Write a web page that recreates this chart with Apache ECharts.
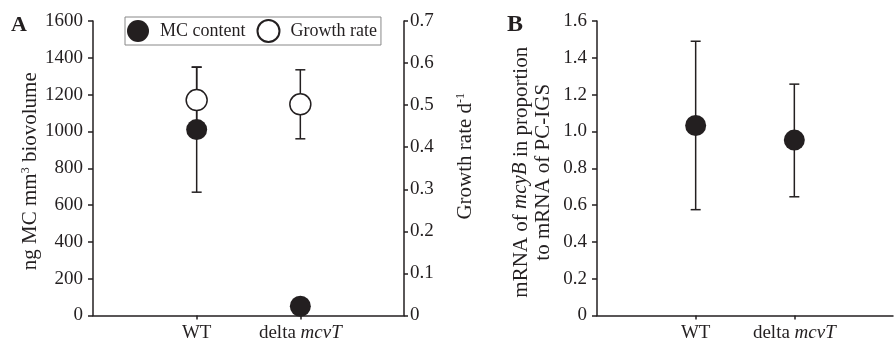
<!DOCTYPE html>
<html><head><meta charset="utf-8">
<script src="https://cdn.jsdelivr.net/npm/echarts@6/dist/echarts.min.js"></script>
<style>html,body{margin:0;padding:0;background:#fff}#c{width:896px;height:343px}</style>
</head><body><div id="c"></div>
<script>
// ---- data ----
const categories = ['WT', 'delta mcvT'];
const axisCats = ['', 'WT', 'delta mcvT', ''];
// Panel A
const mcContent = [1010, 50];
const mcErr = [340, 0];
const growthRate = [0.512, 0.502];
const growthErr = [0.078, 0.082];
// Panel B
const mcyB = [1.032, 0.953];
const mcyBLow = [0.575, 0.645];
const mcyBHigh = [1.49, 1.257];
const ticksA = [0, 200, 400, 600, 800, 1000, 1200, 1400, 1600];
const ticksGrowth = [0, 0.1, 0.2, 0.3, 0.4, 0.5, 0.6, 0.7];
const ticksB = [0, 0.2, 0.4, 0.6, 0.8, 1.0, 1.2, 1.4, 1.6];

const FONT = '"Liberation Serif","DejaVu Serif",serif';
const INK = '#231f20';
const TICKFS = 19;
const NAMEFS = 21;

const chart = echarts.init(document.getElementById('c'), null, {renderer: 'canvas'});

function errSeries(name, xi, yi, data) {
  return {
    type: 'custom', name: name, xAxisIndex: xi, yAxisIndex: yi, z: 1, silent: true,
    renderItem: function (params, api) {
      const x = api.value(0);
      const lo = api.coord([x, api.value(1)]);
      const hi = api.coord([x, api.value(2)]);
      const w = 5;
      const st = {stroke: INK, lineWidth: 1.5};
      return {type: 'group', children: [
        {type: 'line', shape: {x1: lo[0], y1: lo[1], x2: hi[0], y2: hi[1]}, style: st},
        {type: 'line', shape: {x1: lo[0] - w, y1: lo[1], x2: lo[0] + w, y2: lo[1]}, style: st},
        {type: 'line', shape: {x1: hi[0] - w, y1: hi[1], x2: hi[0] + w, y2: hi[1]}, style: st}
      ]};
    },
    data: data
  };
}

function catLabel(v) {
  if (v === 'delta mcvT') return '{n|delta }{i|mcvT}';
  return v ? '{n|' + v + '}' : '';
}

const xAxisCommon = {
  type: 'category', data: axisCats, boundaryGap: false,
  axisLine: {lineStyle: {color: INK, width: 1.5}},
  axisTick: {length: 4, lineStyle: {color: INK, width: 1.5}, interval: function(i){return i===1||i===2;}},
  axisLabel: {
    interval: 0, margin: 7, color: INK, fontFamily: FONT, fontSize: TICKFS,
    formatter: catLabel,
    rich: {
      n: {fontFamily: FONT, fontSize: TICKFS, color: INK, lineHeight: 22},
      i: {fontStyle: 'italic', fontFamily: FONT, fontSize: TICKFS, color: INK, padding: [0, 0, 2, 0]}
    }
  },
  splitLine: {show: false}
};

function yAxisBase(min, max, interval, fmt) {
  return {
    type: 'value', min: min, max: max, interval: interval,
    axisLine: {show: true, lineStyle: {color: INK, width: 1.5}},
    axisTick: {show: true, length: 5, lineStyle: {color: INK, width: 1.5}},
    axisLabel: {color: INK, fontFamily: FONT, fontSize: TICKFS, margin: 10, formatter: fmt},
    splitLine: {show: false},
    nameLocation: 'middle', nameRotate: 90,
    nameTextStyle: {color: INK, fontFamily: FONT, fontSize: NAMEFS}
  };
}

const fmt1 = function (v) { return v === 0 ? '0' : v.toFixed(1); };

const yA = yAxisBase(ticksA[0], ticksA[ticksA.length - 1], ticksA[1] - ticksA[0], function (v) { return String(v); });
yA.gridIndex = 0; yA.position = 'left';
yA.name = 'ng MC mm{sup|3} biovolume';
yA.nameGap = 52;
yA.nameTextStyle.padding = [0, 6, 0, 0];
yA.nameTextStyle.rich = {sup: {fontSize: 12, fontFamily: FONT, color: INK, padding: [0, 0, 9, 0]}};

const yG = yAxisBase(ticksGrowth[0], ticksGrowth[ticksGrowth.length - 1], 0.1, fmt1);
yG.gridIndex = 0; yG.position = 'right';
yG.axisTick.length = 4;
yG.axisLabel.margin = 6;
yG.name = 'Growth rate d{sup|-1}';
yG.nameGap = 51;
yG.nameTextStyle.padding = [0, 0, 0, 24];
yG.nameTextStyle.rich = {sup: {fontSize: 12, fontFamily: FONT, color: INK, padding: [0, 0, 9, 0]}};

const yB = yAxisBase(ticksB[0], ticksB[ticksB.length - 1], 0.2, fmt1);
yB.gridIndex = 1; yB.position = 'left';
yB.name = '{n|mRNA of }{i|mcyB}{n| in proportion}\n{n|to mRNA of PC-IGS}';
yB.nameGap = 43;
yB.nameTextStyle.padding = [0, 8, 0, 0];
yB.nameTextStyle.rich = {
  n: {fontFamily: FONT, fontSize: NAMEFS, color: INK, lineHeight: 21},
  i: {fontStyle: 'italic', fontFamily: FONT, fontSize: NAMEFS, color: INK, padding: [0, 0, 2, 0]}
};

const circle = 21;

const option = {
  backgroundColor: '#fff',
  animation: false,
  textStyle: {fontFamily: FONT},
  grid: [
    {left: 93, top: 21, width: 311, height: 295},
    {left: 597, top: 21, width: 309, height: 295}
  ],
  xAxis: [
    Object.assign({gridIndex: 0}, xAxisCommon),
    Object.assign({gridIndex: 1}, xAxisCommon)
  ],
  yAxis: [yA, yG, yB],
  legend: {
    left: 125, top: 17, orient: 'horizontal',
    data: ['MC content', 'Growth rate'],
    icon: 'circle', itemWidth: 24, itemHeight: 22, itemGap: 11,
    borderColor: '#888', borderWidth: 1, padding: [2, 4, 2, 2],
    textStyle: {color: INK, fontFamily: FONT, fontSize: 18, padding: [0, 0, 0, 5]}
  },
  graphic: [
    {type: 'text', left: 11, top: 14, style: {text: 'A', font: 'bold 22px ' + FONT, fill: INK}},
    {type: 'text', left: 507, top: 13, style: {text: 'B', font: 'bold 24px ' + FONT, fill: INK}}
  ],
  series: [
    errSeries('errMC', 0, 0, categories.map(function (c, i) {
      return [c, mcContent[i] - mcErr[i], mcContent[i] + mcErr[i]];
    }).filter(function (d, i) { return mcErr[i] > 0; })),
    errSeries('errG', 0, 1, categories.map(function (c, i) {
      return [c, growthRate[i] - growthErr[i], growthRate[i] + growthErr[i]];
    })),
    {
      type: 'scatter', name: 'Growth rate', xAxisIndex: 0, yAxisIndex: 1, z: 3,
      symbol: 'circle', symbolSize: circle,
      itemStyle: {color: '#fff', borderColor: INK, borderWidth: 1.5, opacity: 1},
      data: categories.map(function (c, i) { return [c, growthRate[i]]; })
    },
    {
      type: 'scatter', name: 'MC content', xAxisIndex: 0, yAxisIndex: 0, z: 4,
      symbol: 'circle', symbolSize: circle,
      itemStyle: {color: INK, opacity: 1},
      data: categories.map(function (c, i) { return [c, mcContent[i]]; })
    },
    errSeries('errB', 1, 2, categories.map(function (c, i) {
      return [c, mcyBLow[i], mcyBHigh[i]];
    })),
    {
      type: 'scatter', name: 'mcyB', xAxisIndex: 1, yAxisIndex: 2, z: 4,
      symbol: 'circle', symbolSize: circle,
      itemStyle: {color: INK, opacity: 1},
      data: categories.map(function (c, i) { return [c, mcyB[i]]; })
    }
  ]
};
chart.setOption(option);
</script>
</body></html>
